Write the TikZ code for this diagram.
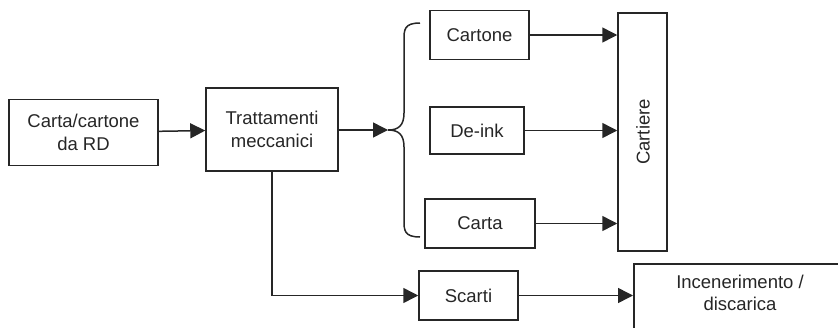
\documentclass[tikz,border=0pt]{standalone}
\usepackage{fontspec}
\setmainfont{Liberation Sans}
\usetikzlibrary{arrows.meta}
\begin{document}
\begin{tikzpicture}[x=1pt,y=-1pt,
  every node/.style={font=\fontsize{18.5}{22.5}\selectfont, text=black!85},
  box/.style={draw=black!85, line width=1.5pt, align=center, inner sep=0pt},
  arr/.style={draw=black!85, line width=1.5pt, -{Triangle[length=15pt,width=15pt]}},
  link/.style={draw=black!85, line width=1.5pt}]
\useasboundingbox (0,0) rectangle (838,327);
\clip (0,0) rectangle (838,327);

% sources and mechanical treatment
\node[box, minimum width=149pt, minimum height=66pt] (src) at (83.5,132.5) {Carta/cartone\\da RD};
\node[box, minimum width=132pt, minimum height=83pt] (mech) at (272,129.5) {Trattamenti\\meccanici};

% sorted fractions
\node[box, minimum width=99pt, minimum height=49pt] (cartone) at (479.5,35) {Cartone};
\node[box, minimum width=94pt, minimum height=47pt] (deink) at (477,130.5) {De-ink};
\node[box, minimum width=110pt, minimum height=49pt] (carta) at (480,223.5) {Carta};

% paper mills
\node[box, minimum width=49pt, minimum height=238pt] (mills) at (642.5,132) {};
\node[rotate=90] (millstext) at (643,132) {Cartiere};

% rejects and disposal
\node[box, minimum width=99pt, minimum height=49pt] (scarti) at (468.5,295.5) {Scarti};
\node[box, minimum width=214pt, minimum height=77pt, anchor=north west] (inc) at (633,263) {};
\node[align=center] (inctext) at (740,293) {Incenerimento /\\discarica};

% brace splitting the treated material
\coordinate (tip) at (388,130);
\coordinate (btop) at (420,23);
\coordinate (bbot) at (420,237);
\draw[link] (btop) .. controls (404,23) and (404,30) .. (404,40)
  -- (404,113) .. controls (404,126) and (398,130) .. (tip)
  .. controls (398,130) and (404,134) .. (404,147)
  -- (404,220) .. controls (404,230) and (404,237) .. (bbot);

% connectors
\draw[arr] (src) -- (mech);
\draw[arr] (mech.east |- tip) -- (tip);
\draw[arr] (cartone.east) -- (mills.west |- cartone.east);
\draw[arr] (deink.east) -- (mills.west |- deink.east);
\draw[arr] (carta.east) -- (mills.west |- carta.east);
\draw[arr] (mech.south) |- (scarti.west);
\draw[arr] (scarti.east) -- (inc.west |- scarti.east);
\end{tikzpicture}
\end{document}
